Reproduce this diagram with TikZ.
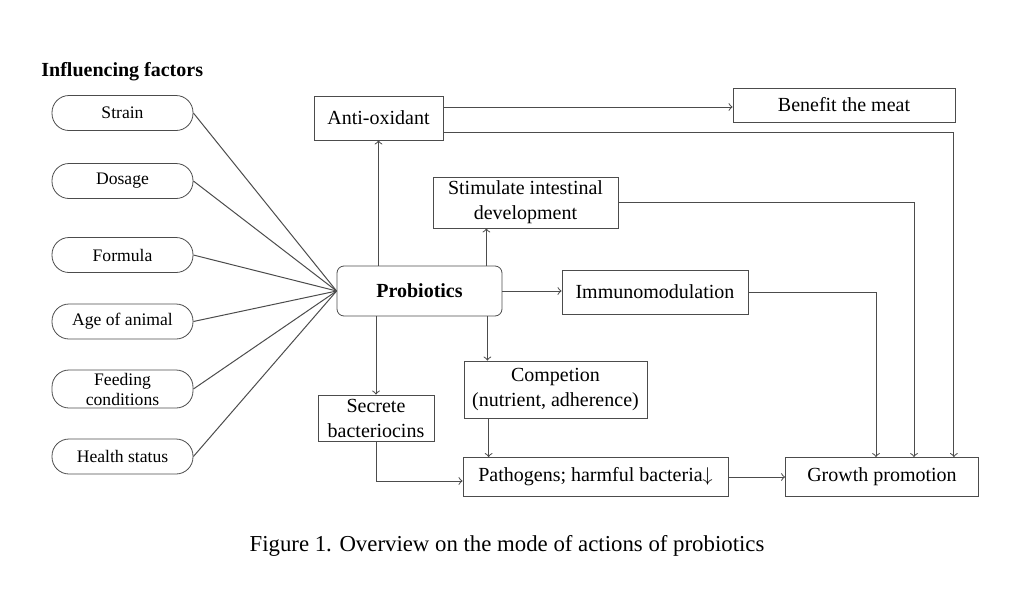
\documentclass[tikz,border=0pt]{standalone}
\usepackage{fontspec}
\setmainfont{Liberation Serif}
\usepackage{tikz}
\usetikzlibrary{arrows}
\tikzstyle{factor} = [draw=black!70, rounded corners=8.5pt, minimum width=70.5pt, minimum height=17.5pt, inner sep=1pt, align=center, font=\fontsize{8.8}{10}\selectfont]
\tikzstyle{effect} = [draw=black!70, rectangle, inner sep=1pt, align=center, font=\fontsize{10}{12.5}\selectfont]
\tikzstyle{mainbox} = [draw=black!70, rectangle, rounded corners=3.5pt, minimum width=82.5pt, minimum height=25pt, font=\fontsize{10}{12}\selectfont\bfseries]
\tikzstyle{link} = [draw=black!70, line width=0.5pt]

\begin{document}
\begin{tikzpicture}[x=0.5pt, y=-0.5pt, >=to]
\useasboundingbox (0,0) rectangle (1024,611);
\node[anchor=west, inner sep=0pt, font=\fontsize{10}{12}\selectfont\bfseries] (title) at (41,72) {Influencing factors};
\node[factor] (strain) at (122.5,113) {Strain};
\node[factor] (dosage) at (122.5,181) {Dosage};
\node[factor] (formula) at (122.5,255) {Formula};
\node[factor] (age) at (122.5,321.5) {Age of animal};
\node[factor, minimum height=19pt] (feeding) at (122.5,389) {Feeding\\conditions};
\node[factor] (health) at (122.5,456.5) {Health status};

\node[mainbox] (probio) at (419.5,291) {Probiotics};
\node[effect, minimum width=64.5pt, minimum height=22pt] (anti) at (378.5,118) {Anti-oxidant};
\node[effect, minimum width=111pt, minimum height=17pt] (bene) at (844,105) {Benefit the meat};
\node[effect, minimum width=92.5pt, minimum height=25.5pt] (stim) at (525.5,202.5) {Stimulate intestinal\\development};
\node[effect, minimum width=93pt, minimum height=22pt] (immuno) at (655,292) {Immunomodulation};
\node[effect, minimum width=91.5pt, minimum height=28.5pt] (comp) at (555.5,389.5) {Competion\\(nutrient, adherence)};
\node[effect, minimum width=58pt, minimum height=23pt] (secr) at (376,418) {Secrete\\bacteriocins};
\node[effect, minimum width=132.5pt, minimum height=19.5pt] (path) at (595.5,477) {Pathogens; harmful bacteria$\downarrow$};
\node[effect, minimum width=96.5pt, minimum height=19.5pt] (growth) at (882,477) {Growth promotion};
\node[font=\fontsize{11.4}{13}\selectfont] (caption) at (507,546) {Figure 1. Overview on the mode of actions of probiotics};

\foreach \f in {strain,dosage,formula,age,feeding,health}
  \draw[link] (\f.east) -- (probio.west);

\draw[link,->] (probio.north -| anti) -- (anti.south);
\draw[link,->] ([xshift=-8pt]probio.north east) -- ([xshift=-8pt]probio.north east |- stim.south);
\draw[link,->] (probio.east) -- (probio.east -| immuno.west);
\draw[link,->] ([xshift=-7.5pt]probio.south east) -- ([xshift=-7.5pt]probio.south east |- comp.north);
\draw[link,->] (probio.south -| secr) -- (secr.north);
\draw[link,->] ([xshift=12.5pt]comp.south west) -- ([xshift=12.5pt]comp.south west |- path.north);
\draw[link,->] (secr.south) |- ([yshift=-2pt]path.west);
\draw[link,->] (path.east) -- (growth.west);
\draw[link,->] ([yshift=5.5pt]anti.east) -- ([yshift=5.5pt]anti.east -| bene.west);
\draw[link,->] ([yshift=-7pt]anti.east) -| ([xshift=-12.5pt]growth.north east);
\draw[link,->] (stim.east) -| ([xshift=16pt]growth.north);
\draw[link,->] (immuno.east) -| ([xshift=-3pt]growth.north);
\end{tikzpicture}
\end{document}
